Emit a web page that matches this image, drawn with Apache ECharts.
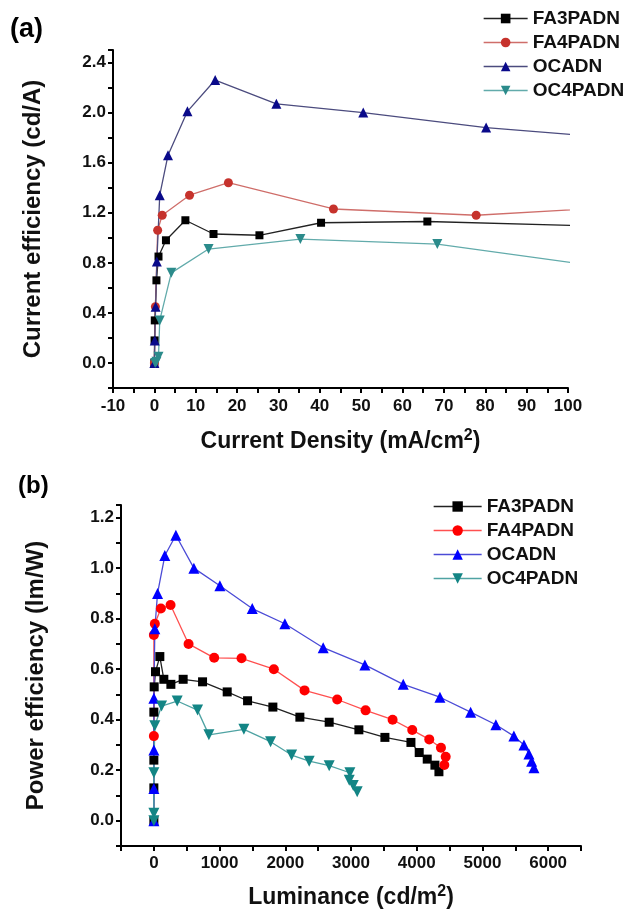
<!DOCTYPE html>
<html>
<head>
<meta charset="utf-8">
<script src="https://cdn.jsdelivr.net/npm/echarts@6/dist/echarts.min.js"></script>
<style>
  html, body { margin: 0; padding: 0; background: #fff; }
  #chart { width: 626px; height: 918px; }
</style>
</head>
<body>
<div id="chart"></div>
<script>
// (a) current efficiency vs current density, [mA/cm2, cd/A]
const ceFA3PADN = [[0, 0], [0.05, 0.18], [0.1, 0.34], [0.5, 0.66], [1.0, 0.85], [2.8, 0.98], [7.5, 1.14], [14.3, 1.03], [25.4, 1.02], [40.3, 1.12], [66, 1.13], [110, 1.09]];
const ceFA4PADN = [[0, 0], [0.25, 0.45], [0.8, 1.06], [1.9, 1.18], [8.5, 1.34], [17.9, 1.44], [43.3, 1.23], [77.8, 1.18], [110, 1.24]];
const ceOCADN = [[0, 0], [0.1, 0.18], [0.3, 0.45], [0.6, 0.81], [1.3, 1.34], [3.3, 1.66], [8.0, 2.01], [14.7, 2.26], [29.5, 2.07], [50.5, 2.0], [80.2, 1.88], [110, 1.8]];
const ceOC4PADN = [[0.2, 0], [0.5, 0.01], [1.0, 0.05], [1.3, 0.34], [4.1, 0.72], [13.1, 0.91], [35.3, 0.99], [68.4, 0.95], [110, 0.76]];

// (b) power efficiency vs luminance, [cd/m2, lm/W]
const peFA3PADN = [[0, 0], [0, 0.13], [0, 0.24], [0, 0.43], [5, 0.53], [25, 0.59], [91, 0.65], [152, 0.56], [259, 0.54], [446, 0.56], [741, 0.55], [1116, 0.51], [1426, 0.475], [1811, 0.45], [2222, 0.41], [2668, 0.39], [3120, 0.36], [3516, 0.33], [3912, 0.31], [4038, 0.27], [4160, 0.244], [4277, 0.22], [4338, 0.194]];
const peFA4PADN = [[0, 0.335], [0, 0.735], [15, 0.78], [107, 0.84], [254, 0.854], [528, 0.70], [918, 0.645], [1334, 0.643], [1826, 0.60], [2293, 0.516], [2790, 0.48], [3222, 0.437], [3633, 0.40], [3932, 0.359], [4191, 0.322], [4369, 0.289], [4441, 0.253], [4420, 0.221]];
const peOCADN = [[0, 0], [0, 0.128], [0, 0.28], [0, 0.485], [15, 0.76], [56, 0.90], [167, 1.05], [335, 1.13], [609, 1.0], [1005, 0.93], [1497, 0.84], [1994, 0.78], [2577, 0.685], [3211, 0.617], [3795, 0.54], [4353, 0.489], [4820, 0.43], [5205, 0.38], [5479, 0.335], [5632, 0.30], [5708, 0.264], [5749, 0.236], [5784, 0.21]];
const peOC4PADN = [[0, 0], [0, 0.03], [0, 0.19], [15, 0.376], [117, 0.454], [355, 0.474], [665, 0.438], [837, 0.34], [1370, 0.362], [1776, 0.313], [2096, 0.26], [2364, 0.236], [2668, 0.218], [2983, 0.19], [2973, 0.16], [3034, 0.14], [3094, 0.115]];

const seriesNames = ["FA3PADN", "FA4PADN", "OCADN", "OC4PADN"];

var font = "'Liberation Sans', Arial, sans-serif";

// marker / line colours for each panel
var styleA = [
  { symbol: "rect", rotate: 0, size: 8, color: "#000000", line: "#222222" },
  { symbol: "circle", rotate: 0, size: 9, color: "#c6322c", line: "#cf6e6a" },
  { symbol: "triangle", rotate: 0, size: 10, color: "#0a0a8a", line: "#4b4b7e" },
  { symbol: "triangle", rotate: 180, size: 10, color: "#2b8b8b", line: "#62abab" },
];
var styleB = [
  { symbol: "rect", rotate: 0, size: 9, color: "#000000", line: "#222222" },
  { symbol: "circle", rotate: 0, size: 10, color: "#ff0000", line: "#ff5050" },
  { symbol: "triangle", rotate: 0, size: 11, color: "#0000ff", line: "#4b4bd6" },
  { symbol: "triangle", rotate: 180, size: 11, color: "#138585", line: "#4fa3a3" },
];

function makeSeries(data, st, name, idx) {
  return {
    name: name,
    type: "line",
    xAxisIndex: idx,
    yAxisIndex: idx,
    data: data,
    clip: true,
    symbol: st.symbol,
    symbolRotate: st.rotate,
    symbolSize: st.size,
    itemStyle: { color: st.color },
    lineStyle: { color: st.line, width: 1.3 },
    emphasis: { disabled: true },
    animation: false,
  };
}

function legendData(styles) {
  return seriesNames.map(function (n, i) {
    return {
      name: n,
      itemStyle: { color: styles[i].color },
      lineStyle: { color: styles[i].line, width: 1.3 },
    };
  });
}

var axisLineStyle = { show: true, onZero: false, lineStyle: { color: "#000", width: 2 } };
var tickStyle = { show: true, inside: false, length: 5, lineStyle: { color: "#000", width: 2 } };
var labelStyle = { color: "#111", fontFamily: font, fontWeight: "bold", fontSize: 17 };

var chart = echarts.init(document.getElementById("chart"));

var option = {
  backgroundColor: "#fff",
  animation: false,
  graphic: [
    { type: "text", left: 10, top: 16, style: { text: "(a)", font: "bold 27px " + font, fill: "#000" } },
    { type: "text", left: 18, top: 474, style: { text: "(b)", font: "bold 24px " + font, fill: "#000" } },
  ],
  legend: [
    {
      orient: "vertical",
      left: 478,
      top: 4,
      itemWidth: 44,
      itemHeight: 12,
      itemGap: 5,
      textStyle: { fontFamily: font, fontWeight: "bold", fontSize: 19, color: "#111" },
      data: legendData(styleA),
      selectedMode: false,
    },
    {
      orient: "vertical",
      left: 428,
      top: 492,
      itemWidth: 48,
      itemHeight: 13,
      itemGap: 5,
      textStyle: { fontFamily: font, fontWeight: "bold", fontSize: 19, color: "#111" },
      data: legendData(styleB),
      selectedMode: false,
    },
  ],
  grid: [
    { left: 113, right: 58, top: 50, height: 338, containLabel: false },
    { left: 121, right: 45, top: 505, height: 341, containLabel: false },
  ],
  xAxis: [
    {
      gridIndex: 0,
      type: "value",
      min: -10,
      max: 100,
      interval: 5,
      name: "{t|Current Density (mA/cm}{s|2}{t|)}",
      nameLocation: "middle",
      nameGap: 40,
      nameTextStyle: {
        rich: {
          t: { fontFamily: font, fontWeight: "bold", fontSize: 23, color: "#111" },
          s: { fontFamily: font, fontWeight: "bold", fontSize: 16, color: "#111", verticalAlign: "top", padding: [0, 0, 12, 0] },
        },
      },
      axisLine: axisLineStyle,
      axisTick: tickStyle,
      splitLine: { show: false },
      axisLabel: Object.assign({}, labelStyle, {
        margin: 10,
        formatter: function (v) { return Math.round(v) % 10 === 0 ? String(Math.round(v)) : ""; },
      }),
    },
    {
      gridIndex: 1,
      type: "value",
      min: -500,
      max: 6500,
      interval: 500,
      name: "{t|Luminance (cd/m}{s|2}{t|)}",
      nameLocation: "middle",
      nameGap: 38,
      nameTextStyle: {
        rich: {
          t: { fontFamily: font, fontWeight: "bold", fontSize: 23, color: "#111" },
          s: { fontFamily: font, fontWeight: "bold", fontSize: 16, color: "#111", verticalAlign: "top", padding: [0, 0, 12, 0] },
        },
      },
      axisLine: axisLineStyle,
      axisTick: tickStyle,
      splitLine: { show: false },
      axisLabel: Object.assign({}, labelStyle, {
        margin: 9,
        formatter: function (v) { return Math.round(v) % 1000 === 0 ? String(Math.round(v)) : ""; },
      }),
    },
  ],
  yAxis: [
    {
      gridIndex: 0,
      type: "value",
      min: -0.2,
      max: 2.5,
      interval: 0.2,
      name: "Current efficiency (cd/A)",
      nameLocation: "middle",
      nameGap: 68,
      nameTextStyle: { fontFamily: font, fontWeight: "bold", fontSize: 24, color: "#111" },
      axisLine: axisLineStyle,
      axisTick: tickStyle,
      splitLine: { show: false },
      axisLabel: Object.assign({}, labelStyle, {
        margin: 7,
        formatter: function (v) { return Math.round(v * 10) % 4 === 0 ? v.toFixed(1) : ""; },
      }),
    },
    {
      gridIndex: 1,
      type: "value",
      min: -0.1,
      max: 1.25,
      interval: 0.1,
      name: "Power efficiency (lm/W)",
      nameLocation: "middle",
      nameGap: 73,
      nameTextStyle: { fontFamily: font, fontWeight: "bold", fontSize: 24, color: "#111" },
      axisLine: axisLineStyle,
      axisTick: tickStyle,
      splitLine: { show: false },
      axisLabel: Object.assign({}, labelStyle, {
        margin: 7,
        formatter: function (v) { return Math.round(v * 10) % 2 === 0 ? v.toFixed(1) : ""; },
      }),
    },
  ],
  series: [
    makeSeries(ceFA3PADN, styleA[0], seriesNames[0], 0),
    makeSeries(ceFA4PADN, styleA[1], seriesNames[1], 0),
    makeSeries(ceOCADN, styleA[2], seriesNames[2], 0),
    makeSeries(ceOC4PADN, styleA[3], seriesNames[3], 0),
    makeSeries(peFA3PADN, styleB[0], seriesNames[0], 1),
    makeSeries(peFA4PADN, styleB[1], seriesNames[1], 1),
    makeSeries(peOCADN, styleB[2], seriesNames[2], 1),
    makeSeries(peOC4PADN, styleB[3], seriesNames[3], 1),
  ],
};

chart.setOption(option);
</script>
</body>
</html>
